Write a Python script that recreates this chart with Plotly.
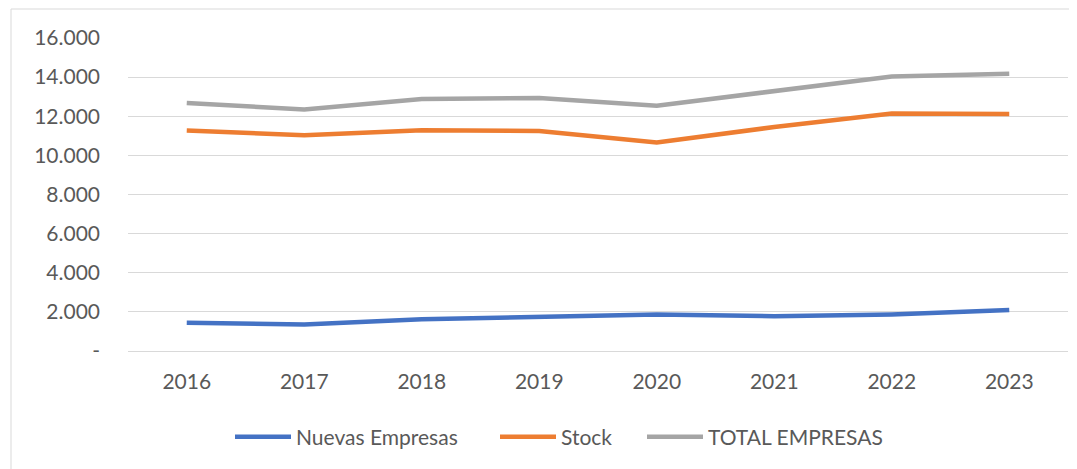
import plotly.graph_objects as go

years = ["2016", "2017", "2018", "2019", "2020", "2021", "2022", "2023"]
nuevas = [1440, 1360, 1620, 1750, 1870, 1780, 1870, 2090]
stock = [11270, 11030, 11285, 11250, 10660, 11450, 12140, 12120]
total = [12680, 12350, 12880, 12930, 12540, 13260, 14030, 14170]

y_ticks = [0, 2000, 4000, 6000, 8000, 10000, 12000, 14000, 16000]
y_labels = ["-", "2.000", "4.000", "6.000", "8.000", "10.000", "12.000", "14.000", "16.000"]

series = [
    ("Nuevas Empresas", nuevas, "#4472C4", "legend"),
    ("Stock", stock, "#ED7D31", "legend2"),
    ("TOTAL EMPRESAS", total, "#A5A5A5", "legend3"),
]

FONT = "Lato"
TXT = "#595959"
fig = go.Figure()
for name, vals, color, lg in series:
    fig.add_trace(go.Scatter(x=years, y=vals, name=name, mode="lines", legend=lg,
                             line=dict(color=color, width=4.5)))

# page body has an 8px offset; positions below are in figure pixels
W, H = 1077, 469
L, R, T, B = 120, 17, 30, 126
pw, ph = W - L - R, H - T - B

def px_to_paper_x(p):
    return (p - L) / pw

def px_to_paper_y(p):
    return (H - B - p) / ph

def legend_at(xpx):
    return dict(orientation="h", x=px_to_paper_x(xpx), xanchor="left",
                y=px_to_paper_y(429), yanchor="middle", itemwidth=56,
                font=dict(family=FONT, size=21, color=TXT),
                bgcolor="rgba(0,0,0,0)")

border = dict(color="#D9D9D9", width=1)
fig.update_layout(
    width=W, height=H,
    margin=dict(l=L, r=R, t=T, b=B, autoexpand=False),
    paper_bgcolor="white", plot_bgcolor="white",
    font=dict(family=FONT, size=21, color=TXT),
    showlegend=True,
    legend=legend_at(222),
    legend2=legend_at(487),
    legend3=legend_at(634),
    xaxis=dict(type="category", range=[-0.5, 7.5], showgrid=False, showline=True,
               linecolor="#D9D9D9", linewidth=1, ticks="", automargin=False,
               ticklabelstandoff=12, tickfont=dict(family=FONT, size=21, color=TXT)),
    yaxis=dict(range=[0, 16000], tickvals=y_ticks, ticktext=y_labels,
               showgrid=True, gridcolor="#D9D9D9", gridwidth=1, automargin=False,
               zeroline=False, showline=False, ticks="",
               ticklabelstandoff=27, tickfont=dict(family=FONT, size=21, color=TXT)),
    shapes=[
        dict(type="line", xref="paper", yref="paper",
             x0=px_to_paper_x(3), x1=px_to_paper_x(1077),
             y0=px_to_paper_y(1), y1=px_to_paper_y(1), line=border, layer="below"),
        dict(type="line", xref="paper", yref="paper",
             x0=px_to_paper_x(3), x1=px_to_paper_x(3),
             y0=px_to_paper_y(1), y1=px_to_paper_y(469), line=border, layer="below"),
    ],
)

fig.write_html("out.html")
